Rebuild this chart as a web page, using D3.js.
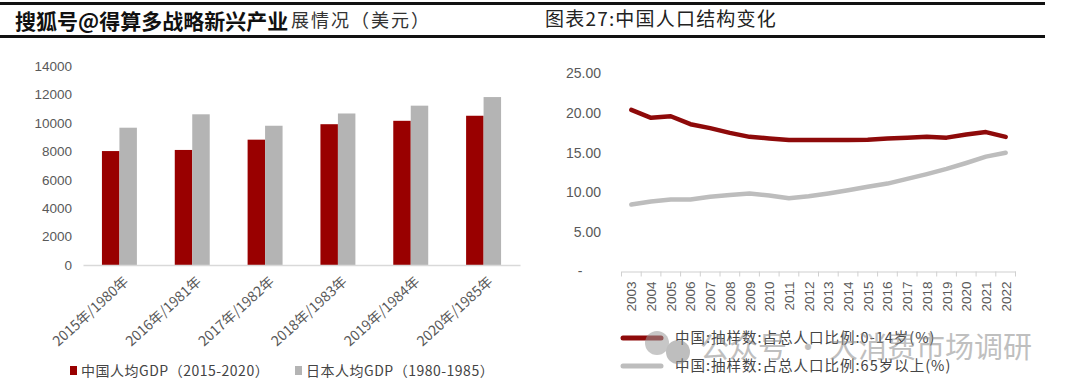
<!DOCTYPE html>
<html>
<head>
<meta charset="utf-8">
<script src="https://cdn.jsdelivr.net/npm/d3@7"></script>
<style>
  html, body { margin: 0; padding: 0; background: #fff; }
  svg { display: block; }
</style>
</head>
<body>
<svg id="chart" width="1080" height="390"></svg>
<script>
// ---------- data ----------
const gdpCategories = ["2015年/1980年", "2016年/1981年", "2017年/1982年", "2018年/1983年", "2019年/1984年", "2020年/1985年"];
const chinaGdp = [8016, 8094, 8817, 9905, 10144, 10500];
const japanGdp = [9659, 10602, 9797, 10659, 11209, 11815];
const gdpTicks = [0, 2000, 4000, 6000, 8000, 10000, 12000, 14000];
const gdpSeriesNames = ["中国人均GDP（2015-2020）", "日本人均GDP（1980-1985）"];

const years = ["2003","2004","2005","2006","2007","2008","2009","2010","2011","2012","2013","2014","2015","2016","2017","2018","2019","2020","2021","2022"];
const age0to14 = [20.4, 19.4, 19.6, 18.6, 18.1, 17.5, 17.0, 16.8, 16.6, 16.6, 16.6, 16.6, 16.65, 16.8, 16.9, 17.0, 16.9, 17.3, 17.6, 17.0];
const age65plus = [8.45, 8.85, 9.1, 9.1, 9.45, 9.65, 9.85, 9.6, 9.25, 9.5, 9.85, 10.25, 10.7, 11.1, 11.7, 12.3, 12.95, 13.7, 14.5, 15.0];
const popTicks = [0, 5, 10, 15, 20, 25];
const popSeriesNames = ["中国:抽样数:占总人口比例:0-14岁(%)", "中国:抽样数:占总人口比例:65岁以上(%)"];

const leftTitleMark = "搜狐号@得算多战略新兴产业";
const leftTitleRest = "展情况（美元）";
const rightTitle = "图表27:中国人口结构变化";
const watermark = "公众号 · 大消费市场调研";

// ---------- styles ----------
const RED = "#990000";
const GRAY = "#b4b4b4";
const LINE_RED = "#8e0a0a";
const LINE_GRAY = "#bdbdbd";
const TICK_COLOR = "#595959";
const CJK = "'Noto Sans CJK SC', 'Noto Sans', sans-serif";
const LATIN = "'Liberation Sans', Arial, sans-serif";

const svg = d3.select("#chart");

// ---------- header rules ----------
svg.append("rect").attr("x", 0).attr("y", 2).attr("width", 1045).attr("height", 3).attr("fill", "#111");
svg.append("rect").attr("x", 0).attr("y", 35).attr("width", 1045).attr("height", 3).attr("fill", "#111");

// left title (watermark overlay + remainder)
svg.append("text")
  .attr("x", 15).attr("y", 29)
  .attr("font-family", CJK).attr("font-size", 21).attr("font-weight", 700)
  .attr("fill", "#111").attr("stroke", "#fff").attr("stroke-width", 0.6)
  .attr("paint-order", "stroke")
  .text(leftTitleMark);
svg.append("text")
  .attr("x", 291).attr("y", 27)
  .attr("font-family", CJK).attr("font-size", 18).attr("letter-spacing", 2)
  .attr("fill", "#333")
  .text(leftTitleRest);

svg.append("text")
  .attr("x", 545).attr("y", 26)
  .attr("font-family", CJK).attr("font-size", 19).attr("letter-spacing", 1.2)
  .attr("fill", "#222")
  .text(rightTitle);

// ---------- left chart: grouped bars ----------
const x0 = d3.scaleBand().domain(gdpCategories).range([83, 520]).paddingInner(0.52).paddingOuter(0.26);
const x1 = d3.scaleBand().domain([0, 1]).range([0, x0.bandwidth()]);
const yL = d3.scaleLinear().domain([0, 14000]).range([265, 66]);

const leftAxis = svg.append("g").attr("transform", "translate(72,0)")
  .call(d3.axisLeft(yL).tickValues(gdpTicks).tickSize(0).tickPadding(0).tickFormat(d3.format("d")));
leftAxis.select(".domain").remove();
leftAxis.selectAll("text").attr("font-family", LATIN).attr("font-size", 13.5).attr("fill", TICK_COLOR);

const groups = svg.append("g").selectAll("g")
  .data(gdpCategories).join("g")
  .attr("transform", d => `translate(${x0(d)},0)`);
groups.append("rect")
  .attr("x", x1(0)).attr("width", x1.bandwidth())
  .attr("y", (d, i) => yL(chinaGdp[i])).attr("height", (d, i) => yL(0) - yL(chinaGdp[i]))
  .attr("fill", RED);
groups.append("rect")
  .attr("x", x1(1)).attr("width", x1.bandwidth())
  .attr("y", (d, i) => yL(japanGdp[i])).attr("height", (d, i) => yL(0) - yL(japanGdp[i]))
  .attr("fill", GRAY);

const bottomAxisL = svg.append("g").attr("transform", `translate(0,${yL(0)})`)
  .call(d3.axisBottom(x0).tickSize(0).tickPadding(0));
bottomAxisL.select(".domain").attr("stroke", "#d9d9d9").attr("stroke-width", 1.5);
bottomAxisL.selectAll("text")
  .attr("font-family", CJK).attr("font-size", 14).attr("fill", TICK_COLOR)
  .attr("text-anchor", "end")
  .attr("dy", 0)
  .attr("transform", "translate(10,18) rotate(-42)");

// left legend
const legL = svg.append("g");
[RED, GRAY].forEach((c, i) => {
  const lx = i === 0 ? 70 : 295;
  legL.append("rect").attr("x", lx).attr("y", 366).attr("width", 7).attr("height", 9).attr("fill", c);
  legL.append("text").attr("x", lx + 11).attr("y", 376)
    .attr("font-family", CJK).attr("font-size", 14).attr("fill", "#444")
    .attr("letter-spacing", 0.5)
    .text(gdpSeriesNames[i]);
});

// ---------- right chart: lines ----------
const xR = d3.scaleBand().domain(years).range([621.5, 1015.5]).padding(0);
const yR = d3.scaleLinear().domain([0, 25]).range([271.5, 73.5]);

const rightAxis = svg.append("g").attr("transform", "translate(601,0)")
  .call(d3.axisLeft(yR).tickValues(popTicks.filter(d => d > 0)).tickSize(0).tickPadding(0).tickFormat(d3.format(".2f")));
rightAxis.select(".domain").remove();
rightAxis.selectAll("text").attr("font-family", LATIN).attr("font-size", 14).attr("fill", TICK_COLOR);
// zero label shown as dash
svg.append("text").attr("x", 580).attr("y", yR(0)).attr("dy", "0.32em")
  .attr("text-anchor", "middle").attr("font-family", LATIN).attr("font-size", 14).attr("fill", TICK_COLOR)
  .text("-");

const xAxisR = svg.append("g").attr("transform", `translate(0,${yR(0)})`)
  .call(d3.axisBottom(xR).tickSize(0).tickPadding(0));
xAxisR.select(".domain").attr("stroke", "#d0d0d0").attr("stroke-width", 1.2);
xAxisR.selectAll("text")
  .attr("font-family", LATIN).attr("font-size", 13.5).attr("fill", TICK_COLOR)
  .attr("text-anchor", "end").attr("dy", 0)
  .attr("transform", "translate(5,10) rotate(-90)");
// boundary tick marks
const boundaries = years.map(y => xR(y)).concat([xR(years[years.length - 1]) + xR.bandwidth()]);
svg.append("g").selectAll("line").data(boundaries).join("line")
  .attr("x1", d => d).attr("x2", d => d)
  .attr("y1", yR(0)).attr("y2", yR(0) + 5)
  .attr("stroke", "#d0d0d0").attr("stroke-width", 1);

const lineGen = vals => d3.line()
  .x((d, i) => xR(years[i]) + xR.bandwidth() / 2)
  .y(d => yR(d))(vals);

svg.append("path").attr("d", lineGen(age65plus))
  .attr("fill", "none").attr("stroke", LINE_GRAY).attr("stroke-width", 4.5)
  .attr("stroke-linejoin", "round").attr("stroke-linecap", "round");
svg.append("path").attr("d", lineGen(age0to14))
  .attr("fill", "none").attr("stroke", LINE_RED).attr("stroke-width", 4.5)
  .attr("stroke-linejoin", "round").attr("stroke-linecap", "round");

// right legend
const legR = svg.append("g");
[[LINE_RED, 338], [LINE_GRAY, 366]].forEach(([c, ly], i) => {
  legR.append("line").attr("x1", 623).attr("x2", 661).attr("y1", ly).attr("y2", ly)
    .attr("stroke", c).attr("stroke-width", 5).attr("stroke-linecap", "round");
  legR.append("text").attr("x", 675).attr("y", ly + 5)
    .attr("font-family", CJK).attr("font-size", 14.5).attr("fill", "#444")
    .attr("letter-spacing", 1)
    .text(popSeriesNames[i]);
});

// watermark overlay
const wm = svg.append("g").attr("opacity", 0.55);
wm.append("circle").attr("cx", 657).attr("cy", 343).attr("r", 12).attr("fill", "#9a9a9a");
wm.append("circle").attr("cx", 678).attr("cy", 352).attr("r", 12).attr("fill", "#8a8a8a");
wm.append("text").attr("x", 700).attr("y", 358)
  .attr("font-family", CJK).attr("font-size", 29).attr("fill", "#8c8c8c")
  .text(watermark);
</script>
</body>
</html>
